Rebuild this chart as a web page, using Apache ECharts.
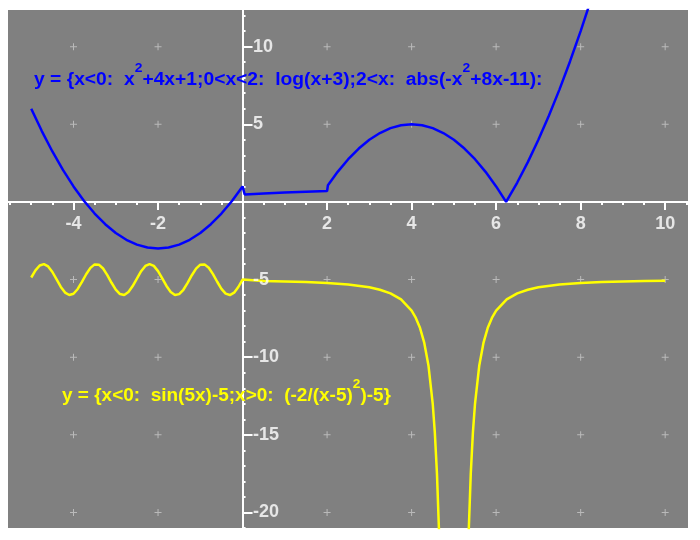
<!DOCTYPE html>
<html><head><meta charset="utf-8">
<script src="https://cdn.jsdelivr.net/npm/echarts@6/dist/echarts.min.js"></script>
<style>html,body{margin:0;padding:0;background:#fff}#c{width:700px;height:540px}</style>
</head><body><div id="c"></div>
<script>
// Blue piecewise curve: x<0: x^2+4x+1 ; 0<x<2: log(x+3) ; 2<x: abs(-x^2+8x-11)
const blueX = [-5,-4.75,-4.5,-4.25,-4,-3.75,-3.5,-3.25,-3,-2.75,-2.5,-2.25,-2,-1.75,-1.5,-1.25,-1,-0.75,-0.5,-0.25,0,
  0.05,0.5,1,1.5,2,
  2.02,2.25,2.5,2.75,3,3.25,3.5,3.75,4,4.25,4.5,4.75,5,5.25,5.5,5.75,6,6.236,6.5,6.75,7,7.25,7.5,7.75,8,8.25];
const blueY = [6,4.5625,3.25,2.0625,1,0.0625,-0.75,-1.4375,-2,-2.4375,-2.75,-2.9375,-3,-2.9375,-2.75,-2.4375,-2,-1.4375,-0.75,0.0625,1,
  0.484,0.544,0.602,0.653,0.699,
  1.08,1.9375,2.75,3.4375,4,4.4375,4.75,4.9375,5,4.9375,4.75,4.4375,4,3.4375,2.75,1.9375,1,0,1.25,2.5625,4,5.5625,7.25,9.0625,11,13.0625];
// Yellow piecewise curve: x<0: sin(5x)-5 ; x>0: (-2/(x-5)^2)-5
const yellowX = [-5,-4.9,-4.8,-4.7,-4.6,-4.5,-4.4,-4.3,-4.2,-4.1,-4,-3.9,-3.8,-3.7,-3.6,-3.5,-3.4,-3.3,-3.2,-3.1,-3,
  -2.9,-2.8,-2.7,-2.6,-2.5,-2.4,-2.3,-2.2,-2.1,-2,-1.9,-1.8,-1.7,-1.6,-1.5,-1.4,-1.3,-1.2,-1.1,-1,
  -0.9,-0.8,-0.7,-0.6,-0.5,-0.4,-0.3,-0.2,-0.1,0,
  0.5,1,1.5,2,2.5,3,3.25,3.5,3.75,4,4.1,4.2,4.3,4.4,4.5,4.55,4.6,4.65,4.7,
  5,
  5.3,5.35,5.4,5.45,5.5,5.6,5.7,5.8,5.9,6,6.25,6.5,6.75,7,7.5,8,8.5,9,9.5,10];
const yellowY = [-4.868,-4.409,-4.094,-4.002,-4.154,-4.513,-4.991,-5.472,-5.837,-5.997,-5.913,-5.606,-5.150,-4.658,-4.249,-4.024,-4.039,-4.288,-4.712,-5.207,-5.650,
  -5.935,-5.991,-5.804,-5.420,-4.934,-4.463,-4.125,-4.000,-4.120,-4.456,-4.925,-5.412,-5.799,-5.989,-5.938,-5.657,-5.215,-4.721,-4.295,-4.041,
  -4.023,-4.243,-4.649,-5.141,-5.599,-5.909,-5.998,-5.842,-5.479,-5.0,
  -5.099,-5.125,-5.163,-5.222,-5.32,-5.5,-5.653,-5.889,-6.28,-7,-7.469,-8.125,-9.082,-10.556,-13,-14.877,-17.5,-21.327,-27.22,
  null,
  -27.22,-21.327,-17.5,-14.877,-13,-10.556,-9.082,-8.125,-7.469,-7,-6.28,-5.889,-5.653,-5.5,-5.32,-5.222,-5.163,-5.125,-5.099,-5.08];
// Axis ticks / labels
const xLabels = [-4,-2,2,4,6,8,10];
const yLabels = [-20,-15,-10,-5,5,10];
const xMinor = [-5.5,-5,-4.5,-4,-3.5,-3,-2.5,-2,-1.5,-1,-0.5,0.5,1,1.5,2,2.5,3,3.5,4,4.5,5,5.5,6,6.5,7,7.5,8,8.5,9,9.5,10,10.5];
const yMinor = [-21,-20,-19,-18,-17,-16,-15,-14,-13,-12,-11,-10,-9,-8,-7,-6,-5,-4,-3,-2,-1,1,2,3,4,5,6,7,8,9,10,11,12];
const blueText = 'y = {x<0:  x{s|2}+4x+1;0<x<2:  log(x+3);2<x:  abs(-x{s|2}+8x-11):';
const yellowText = 'y = {x<0:  sin(5x)-5;x>0:  (-2/(x-5){s|2})-5}';

const crosses = [];
xLabels.forEach(x => yLabels.forEach(y => crosses.push([x, y])));
const pair = (xs, ys) => xs.map((x, i) => [x, ys[i]]);

const FONT = '"Liberation Sans", Arial, sans-serif';
const chart = echarts.init(document.getElementById('c'), null, {renderer: 'canvas'});
const labelFont = {color: '#ffffff', fontWeight: 'bold', fontSize: 18, fontFamily: FONT};
const line0 = {onZero: true, onZeroAxisIndex: 0, lineStyle: {color: '#fff', width: 2}};
chart.setOption({
  backgroundColor: '#ffffff',
  animation: false,
  grid: {left: 8, top: 10, right: 12, bottom: 12, containLabel: false, outerBoundsMode: 'none',
         show: true, backgroundColor: '#808080', borderWidth: 0},
  xAxis: [
    {type: 'value', min: -5.55, max: 10.54, position: 'bottom', axisLine: line0,
     axisTick: {customValues: xLabels, length: 8, lineStyle: {color: '#fff', width: 2}},
     axisLabel: {show: false}, splitLine: {show: false}},
    {type: 'value', min: -5.55, max: 10.54, position: 'bottom', axisLine: line0,
     axisTick: {customValues: xMinor, length: 3, lineStyle: {color: '#fff', width: 2}},
     axisLabel: {show: false}, splitLine: {show: false}}
  ],
  yAxis: [
    {type: 'value', min: -21, max: 12.36, position: 'left', axisLine: line0,
     axisTick: {inside: true, customValues: yLabels, length: 10, lineStyle: {color: '#fff', width: 2}},
     axisLabel: {show: false}, splitLine: {show: false}},
    {type: 'value', min: -21, max: 12.36, position: 'left', axisLine: line0,
     axisTick: {inside: true, customValues: yMinor, length: 3, lineStyle: {color: '#fff', width: 2}},
     axisLabel: {show: false}, splitLine: {show: false}}
  ],
  series: [
    {type: 'scatter', data: crosses, symbol: 'path://M3 0H4V7H3Z M0 3H7V4H0Z', symbolSize: 7,
     itemStyle: {color: '#c8c8c8'}, silent: true, z: 1},
    {type: 'scatter', data: xLabels.map(x => [x, 0]), symbolSize: 1, itemStyle: {color: 'rgba(0,0,0,0)'},
     silent: true, z: 5,
     label: Object.assign({show: true, position: 'bottom', distance: 13, formatter: p => String(p.value[0])}, labelFont)},
    {type: 'scatter', data: yLabels.map(y => [0, y]), symbolSize: 1, itemStyle: {color: 'rgba(0,0,0,0)'},
     silent: true, z: 5,
     label: Object.assign({show: true, position: 'right', distance: 10, formatter: p => String(p.value[1])}, labelFont)},
    {type: 'line', data: pair(blueX, blueY), showSymbol: false, connectNulls: false,
     lineStyle: {color: '#0000ff', width: 2.5}, z: 3},
    {type: 'line', data: pair(yellowX, yellowY), showSymbol: false, connectNulls: false,
     lineStyle: {color: '#ffff00', width: 2.5}, z: 3}
  ],
  graphic: [
    {type: 'text', x: 34, y: 62, scaleX: 1.07, z: 10, style: {text: blueText, fill: '#0000ff',
      font: 'bold 18px ' + FONT, lineHeight: 36, verticalAlign: 'top', align: 'left',
      rich: {s: {fontSize: 13, fontWeight: 'bold', fontFamily: FONT, fill: '#0000ff', lineHeight: 13, verticalAlign: 'top'}}}},
    {type: 'text', x: 62, y: 378, scaleX: 1.055, z: 10, style: {text: yellowText, fill: '#ffff00',
      font: 'bold 18px ' + FONT, lineHeight: 36, verticalAlign: 'top', align: 'left',
      rich: {s: {fontSize: 13, fontWeight: 'bold', fontFamily: FONT, fill: '#ffff00', lineHeight: 13, verticalAlign: 'top'}}}}
  ]
});
</script></body></html>
